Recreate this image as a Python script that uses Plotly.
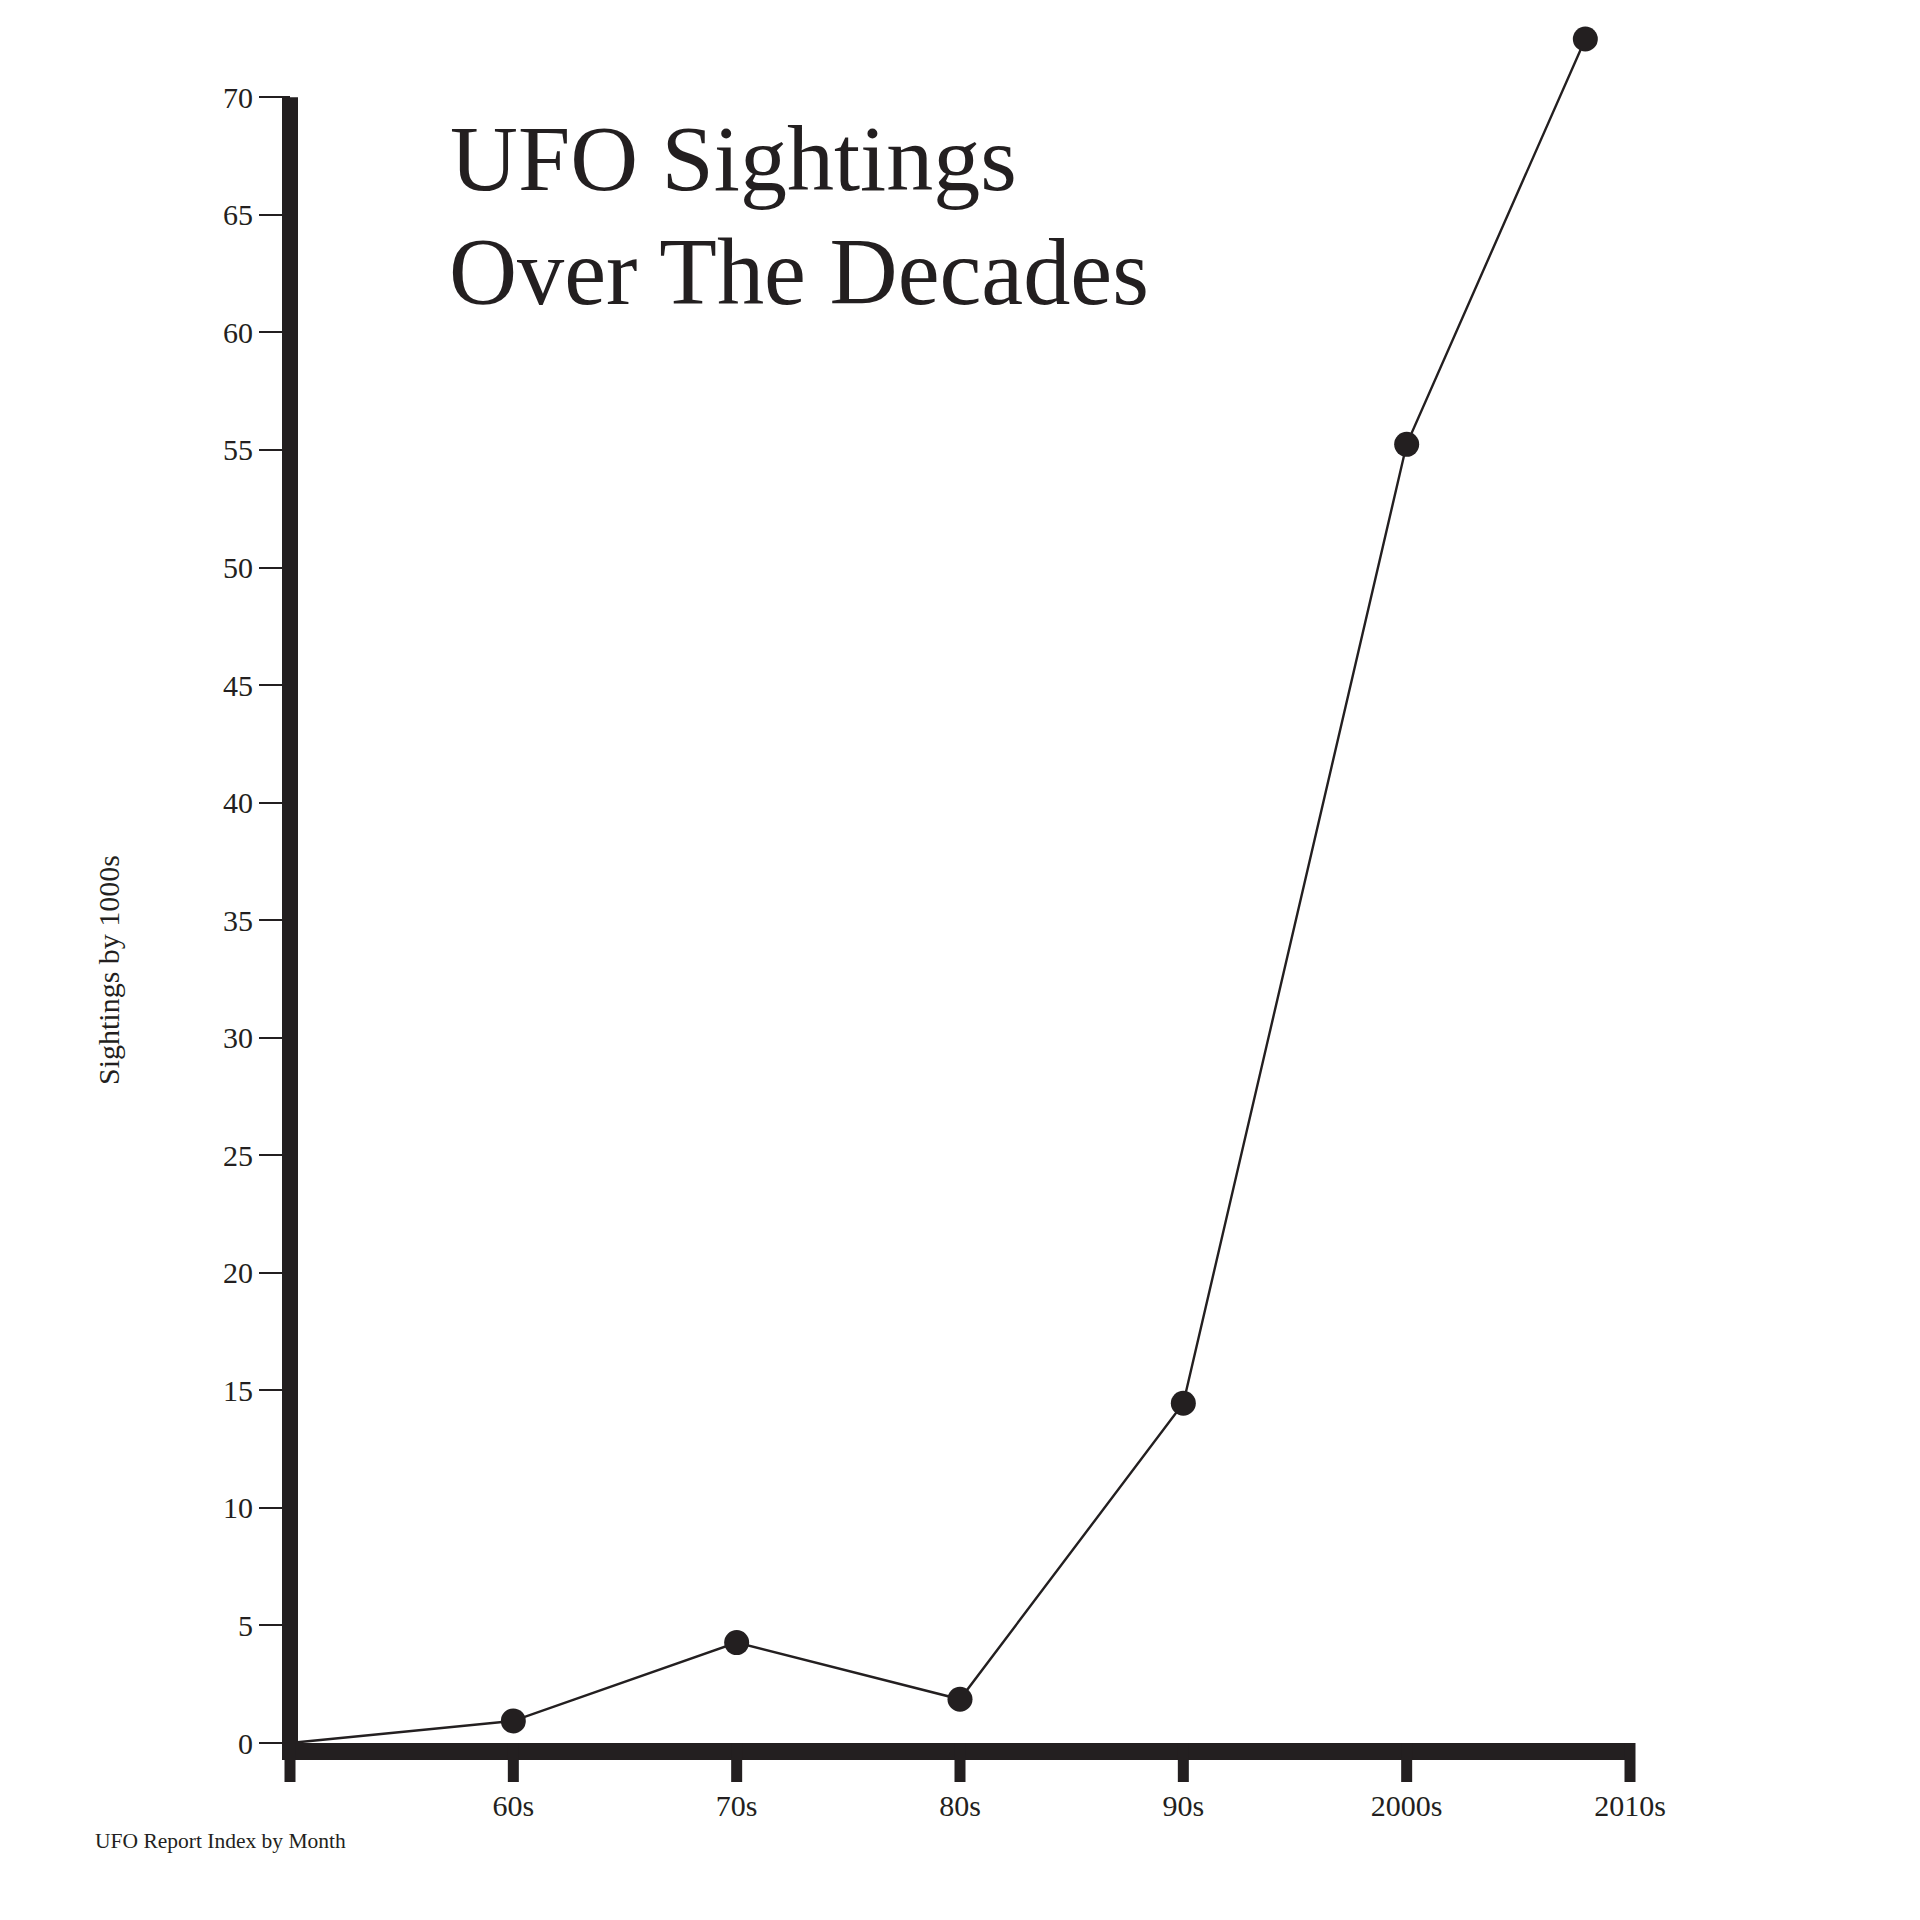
import plotly.graph_objects as go

# ---- data ----
decade_labels = ["", "60s", "70s", "80s", "90s", "2000s", "2010s"]
decade_ticks = [0, 1, 2, 3, 4, 5, 6]
point_x = [0, 1, 2, 3, 4, 5, 5.8]
sightings_k = [0, 0.94, 4.27, 1.86, 14.45, 55.24, 72.48]
y_ticks = list(range(0, 75, 5))

INK = "#231f20"
FONT = "Liberation Serif"
W = H = 1920
ML, MR, MT, MB = 215, 231, 0, 146
XMIN, XMAX = -0.3, 6.3
Y0_PX = 1735
y_unit = 23.51
YMAX = (Y0_PX - MT) / y_unit
PW = W - ML - MR
PH = H - MT - MB
YMIN = -(H - MB - Y0_PX) / y_unit
x_unit = PW / (XMAX - XMIN)


def pxx(px):
    return (px - ML) / PW


def pxy(py):
    return 1 - (py - MT) / PH


fig = go.Figure()
fig.add_trace(go.Scatter(
    x=point_x, y=sightings_k, mode="lines",
    line=dict(color=INK, width=2.4), hoverinfo="skip"))
fig.add_trace(go.Scatter(
    x=point_x[1:], y=sightings_k[1:], mode="markers",
    marker=dict(color=INK, size=25), cliponaxis=False))

shapes = []
# x axis bar (top edge at value 0)
shapes.append(dict(type="rect", xref="x", yref="y",
                   x0=decade_ticks[0] - 8 / x_unit, x1=decade_ticks[-1],
                   ysizemode="pixel", yanchor=0, y0=0, y1=-17,
                   fillcolor=INK, line=dict(width=0), layer="above"))
# x ticks
for t in decade_ticks:
    shapes.append(dict(type="rect", xref="x", yref="y",
                       xsizemode="pixel", xanchor=t, x0=-5.5, x1=5.5,
                       ysizemode="pixel", yanchor=0, y0=0, y1=-42,
                       fillcolor=INK, line=dict(width=0), layer="above"))
# y axis bar
shapes.append(dict(type="rect", xref="x", yref="y",
                   xsizemode="pixel", xanchor=decade_ticks[0], x0=-8, x1=8,
                   y0=y_ticks[0], y1=y_ticks[-1],
                   fillcolor=INK, line=dict(width=0), layer="above"))

annotations = [
    dict(text="UFO Sightings", x=pxx(440), y=pxy(150), xref="paper", yref="paper",
         xanchor="left", yanchor="middle", showarrow=False,
         font=dict(family=FONT, size=94, color=INK)),
    dict(text="Over The Decades", x=pxx(439), y=pxy(264), xref="paper", yref="paper",
         xanchor="left", yanchor="middle", showarrow=False,
         font=dict(family=FONT, size=94.3, color=INK)),
    dict(text="Sightings by 1000s", x=pxx(101), y=pxy(962), xref="paper", yref="paper",
         xanchor="center", yanchor="middle", textangle=-90, showarrow=False,
         font=dict(family=FONT, size=30, color=INK)),
    dict(text="UFO Report Index by Month", x=pxx(85), y=pxy(1833), xref="paper", yref="paper",
         xanchor="left", yanchor="middle", showarrow=False,
         font=dict(family=FONT, size=21.5, color=INK)),
]

fig.update_layout(
    width=W, height=H,
    margin=dict(l=ML, r=MR, t=MT, b=MB),
    paper_bgcolor="white", plot_bgcolor="white",
    showlegend=False,
    shapes=shapes,
    annotations=annotations,
    xaxis=dict(range=[XMIN, XMAX], tickvals=decade_ticks, ticktext=decade_labels,
               showgrid=False, zeroline=False, showline=False, ticks="",
               ticklabelstandoff=3,
               tickfont=dict(family=FONT, size=30, color=INK)),
    yaxis=dict(range=[YMIN, YMAX], tickvals=y_ticks, anchor="free",
               position=(0 - XMIN) / (XMAX - XMIN),
               showgrid=False, zeroline=False, showline=False,
               ticks="outside", ticklen=31, tickwidth=2, tickcolor=INK,
               tickfont=dict(family=FONT, size=30, color=INK)),
)

fig.write_html("out.html")
